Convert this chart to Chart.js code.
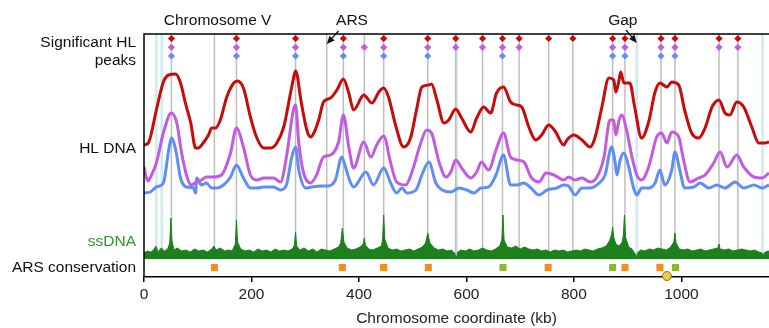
<!DOCTYPE html>
<html><head><meta charset="utf-8">
<script src="https://cdn.jsdelivr.net/npm/chart.js@4/dist/chart.umd.min.js"></script>
<style>html,body{margin:0;padding:0;background:#fff}#wrap{width:769px;height:328px;position:relative}</style>
</head><body><div id="wrap"><canvas id="c" width="769" height="328"></canvas></div>
<script>
// ---------- data (chromosome coordinate in kb, signal in arbitrary track units) ----------
const xTicks = [0, 200, 400, 600, 800, 1000];

const redKb  = [0,8,23,36,46,59,68,77,87,96,101,110,120,126,133,142,154,167,174,185,198,210,223,236,247,260,273,280,282,285,291,303,310,316,325,334,347,359,371,381,390,409,424,437,446,455,468,483,496,507,517,530,535,545,558,567,580,591,608,619,632,645,656,669,682,694,703,716,729,740,753,766,781,787,800,815,830,839,852,865,874,878,884,887,893,904,913,926,939,951,960,973,982,995,1006,1019,1032,1044,1057,1070,1081,1090,1103,1116,1131,1144,1155,1163];
const redVal = [132,134,167,195,202,203,194,174,154,129,129,134,142,149,149,157,180,194,196,189,160,139,129,129,134,150,185,203,206,202,180,147,140,144,157,175,179,187,198,184,167,182,174,185,189,180,152,130,139,167,190,192,193,177,154,157,168,159,145,159,170,164,184,190,175,172,170,150,137,142,152,145,132,137,142,137,130,139,170,199,197,185,197,205,194,194,170,139,155,185,194,190,195,192,167,144,139,149,170,177,164,162,175,170,150,134,134,135];

const purpleKb  = [0,7,14,23,36,51,61,70,79,88,98,107,116,129,144,161,172,185,198,210,223,241,254,265,278,282,288,297,310,321,334,347,362,371,381,390,409,422,433,446,459,470,487,498,515,526,535,549,562,571,580,591,608,619,628,641,655,669,682,694,707,720,735,748,763,781,790,802,815,830,843,856,867,874,878,884,889,898,908,917,926,939,954,963,973,982,995,1004,1016,1032,1044,1060,1072,1085,1103,1116,1135,1150,1163];
const purpleVal = [110,96,102,114,144,164,154,124,102,92,95,97,100,100,102,124,149,130,102,97,99,99,95,120,167,172,134,104,94,102,120,122,135,162,130,109,135,120,132,141,114,95,92,104,134,147,144,115,100,105,117,109,99,105,115,107,127,144,120,117,115,100,95,104,102,97,100,97,99,95,100,120,157,157,142,157,162,147,120,102,97,110,140,144,134,145,140,117,95,99,102,114,125,110,122,110,100,99,104];

const blueKb  = [0,12,23,36,46,51,59,68,79,92,96,98,107,116,126,135,148,161,172,185,198,210,223,241,254,265,275,282,288,301,312,329,340,356,368,375,381,390,413,427,446,459,470,480,489,506,517,530,543,555,571,586,601,614,627,641,655,669,682,694,707,720,735,750,768,781,790,802,815,830,847,858,870,876,880,886,893,902,911,917,926,939,951,960,969,982,988,997,1006,1023,1035,1051,1066,1081,1100,1116,1135,1150,1163];
const blueVal = [84,85,90,94,127,139,127,99,90,89,84,99,92,94,89,89,92,100,112,99,89,89,90,90,87,92,120,130,107,89,90,91,91,97,120,110,99,90,105,92,109,94,84,89,84,87,102,115,94,87,85,89,87,84,89,90,102,122,92,92,94,89,82,87,89,92,91,82,89,89,94,102,130,117,102,117,124,110,89,82,89,89,94,107,92,107,125,107,89,90,94,89,92,89,95,89,92,89,92];

const ssKb  = [0,6,12,18,22,26,32,38,44,48,50,52,56,62,70,78,86,94,102,110,118,126,130,134,142,150,158,164,170,172,174,180,188,196,204,212,220,228,236,244,252,260,268,276,280,282,284,290,298,306,314,322,330,338,346,354,362,366,369,372,378,386,394,402,408,410,412,418,426,434,442,444,446,448,454,462,470,478,486,494,502,510,518,524,528,532,540,548,556,564,572,578,581,584,590,598,606,614,622,630,638,646,654,662,666,668,670,676,684,692,700,708,716,724,732,740,748,756,764,772,780,788,796,804,812,820,828,836,844,852,860,866,870,872,874,878,884,890,892,894,896,902,908,914,916,918,924,932,940,948,956,964,972,980,986,988,990,996,1004,1012,1020,1028,1036,1044,1052,1060,1068,1070,1072,1080,1088,1096,1104,1112,1120,1128,1136,1144,1150,1152,1156,1163];
const ssVal = [24,26,25,27,31,25,29,26,28,34,59,36,27,29,26,27,25,28,26,27,25,28,31,27,29,26,27,26,33,57,35,28,26,27,25,28,26,27,25,28,26,27,26,28,32,45,31,27,29,26,28,25,28,27,26,28,30,34,49,35,29,27,28,30,33,39,32,28,27,29,31,38,62,38,29,27,28,26,27,28,26,28,30,34,44,34,29,27,28,26,27,24,18,25,27,26,28,26,27,29,27,26,28,31,38,62,37,30,29,31,28,30,28,27,28,26,27,25,27,26,27,25,26,27,26,28,27,26,28,29,31,36,42,50,40,33,31,35,42,62,40,30,28,23,18,24,27,26,28,27,29,28,27,30,35,44,34,28,27,28,26,27,28,26,27,28,29,33,28,27,28,26,27,28,27,26,27,25,24,22,25,26];

const redPeaks    = [51,172,282,371,446,528,580,630,667,698,753,798,872,895,962,988,1070,1105];
const purplePeaks = [51,172,282,371,410,446,528,580,630,667,698,872,895,962,988,1070,1105];
const bluePeaks   = [51,172,282,371,446,528,667,872,895,962,988];
const peakLines   = [51,131,172,282,340,371,410,446,528,580,630,667,698,753,798,872,895,962,988,1070,1105];
const gapLines    = [23,33,582,917,1151];

const arsOrange = [131,369,446,529,752,895,960];
const arsGreen  = [668,872,989];
const centromere = [973];

// ---------- layout of tracks (y units) ----------
const TOP = 243, SS_BASE = 18;
const LV = {red:238.5, purple:229.7, blue:221, ars:9.5, cen:1};
const FONT = '"Liberation Sans", Arial, Helvetica, sans-serif';
const FS = 15.5;

const pairs = (xs, ys) => xs.map((x, i) => ({x, y: ys[i]}));
const level = (xs, v) => xs.map(x => ({x, y: v}));
const vlines = (xs) => { const o = []; xs.forEach(k => { o.push({x:k, y:SS_BASE}, {x:k, y:TOP}, {x:k, y:null}); }); return o; };

const RED = 'rgb(200,10,10)', PURPLE = 'rgb(192,92,224)', BLUE = 'rgb(96,142,246)', GREEN = 'rgb(28,128,28)';

const line = (data, color, order) => ({type:'line', data, borderColor:color, borderWidth:3, pointRadius:0, fill:false,
  tension:0.4, cubicInterpolationMode:'monotone', order});
const pts = (data, color, style, r, order, extra) => Object.assign({type:'line', data, showLine:false, pointStyle:style,
  pointRadius:r, pointBackgroundColor:color, pointBorderColor:color, pointBorderWidth:0, clip:false, order}, extra || {});

const overlay = {
  id: 'overlay',
  afterDraw(chart) {
    const {ctx, chartArea: a, scales: {x, y}} = chart;
    ctx.save();
    ctx.strokeStyle = '#000'; ctx.lineWidth = 1.5;
    ctx.beginPath(); ctx.moveTo(a.left, a.bottom); ctx.lineTo(a.left, a.top); ctx.lineTo(a.right, a.top); ctx.stroke();
    ctx.font = FS + 'px ' + FONT; ctx.textBaseline = 'middle';
    ctx.textAlign = 'right';
    [['Significant HL', 234.5, '#111'], ['peaks', 216, '#111'], ['HL DNA', 128, '#111'],
     ['ssDNA', 35, 'rgb(45,150,45)'], ['ARS conservation', 9.5, '#111']].forEach(([t, v, c]) => {
      ctx.fillStyle = c; ctx.fillText(t, a.left - 8, y.getPixelForValue(v));
    });
    ctx.textAlign = 'center'; ctx.fillStyle = '#111';
    [['Chromosome V', 137], ['ARS', 387], ['Gap', 891]].forEach(([t, k]) => ctx.fillText(t, x.getPixelForValue(k), y.getPixelForValue(256)));
    const arrow = (k1, v1, k2, v2) => {
      const x1 = x.getPixelForValue(k1), y1 = y.getPixelForValue(v1), x2 = x.getPixelForValue(k2), y2 = y.getPixelForValue(v2);
      const an = Math.atan2(y2 - y1, x2 - x1), c = Math.cos(an), s = Math.sin(an);
      ctx.strokeStyle = '#111'; ctx.lineWidth = 1.2;
      ctx.beginPath(); ctx.moveTo(x1, y1); ctx.lineTo(x2 - 6 * c, y2 - 6 * s); ctx.stroke();
      ctx.beginPath(); ctx.moveTo(x2, y2);
      ctx.lineTo(x2 - 8 * c + 3.5 * s, y2 - 8 * s - 3.5 * c);
      ctx.lineTo(x2 - 8 * c - 3.5 * s, y2 - 8 * s + 3.5 * c);
      ctx.closePath(); ctx.fill();
    };
    arrow(362, 246, 340, 233);
    arrow(897, 247, 917, 234);
    ctx.restore();
  }
};

new Chart(document.getElementById('c'), {
  type: 'line',
  data: {datasets: [
    {data: vlines(gapLines), borderColor:'rgb(205,236,238)', borderWidth:2.5, pointRadius:0, spanGaps:false, order:21},
    {data: vlines(peakLines), borderColor:'rgb(190,190,190)', borderWidth:1.5, pointRadius:0, spanGaps:false, order:20},
    {data: pairs(ssKb, ssVal), borderColor:GREEN, backgroundColor:GREEN, borderWidth:1, pointRadius:0, tension:0,
      fill:{value:SS_BASE}, order:15},
    line(pairs(blueKb, blueVal), BLUE, 6),
    line(pairs(purpleKb, purpleVal), PURPLE, 5),
    line(pairs(redKb, redVal), RED, 4),
    pts(level(redPeaks, LV.red), RED, 'rectRot', 3.6, 1),
    pts(level(purplePeaks, LV.purple), PURPLE, 'rectRot', 3.6, 1),
    pts(level(bluePeaks, LV.blue), BLUE, 'rectRot', 3.6, 1),
    pts(level(arsOrange, LV.ars), 'rgb(245,140,30)', 'rect', 5, 1),
    pts(level(arsGreen, LV.ars), 'rgb(140,185,50)', 'rect', 5, 1),
    pts(level(centromere, LV.cen), 'rgb(245,200,70)', 'circle', 4.5, 0, {pointBorderColor:'rgb(150,110,20)', pointBorderWidth:1})
  ]},
  options: {
    responsive:false, devicePixelRatio:1, animation:false,
    layout:{autoPadding:false, padding:{left:144, top:34, right:0, bottom:0}},
    plugins:{legend:{display:false}, tooltip:{enabled:false}},
    scales:{
      x:{type:'linear', min:0, max:1163,
        afterFit(s){ s.height = 51; s.paddingLeft = 0; s.paddingRight = 0; },
        afterBuildTicks(s){ s.ticks = xTicks.map(v => ({value:v})); },
        grid:{drawOnChartArea:false, tickLength:5, color:'#000', lineWidth:1.5},
        border:{color:'#000', width:1.5},
        ticks:{padding:3, color:'#222', font:{size:FS, family:FONT}, maxRotation:0, callback:(v) => String(v)},
        title:{display:true, text:'Chromosome coordinate (kb)', padding:{top:0, bottom:0}, color:'#222', font:{size:FS, family:FONT}}
      },
      y:{display:false, min:0, max:TOP}
    }
  },
  plugins:[overlay]
});
</script></body></html>
